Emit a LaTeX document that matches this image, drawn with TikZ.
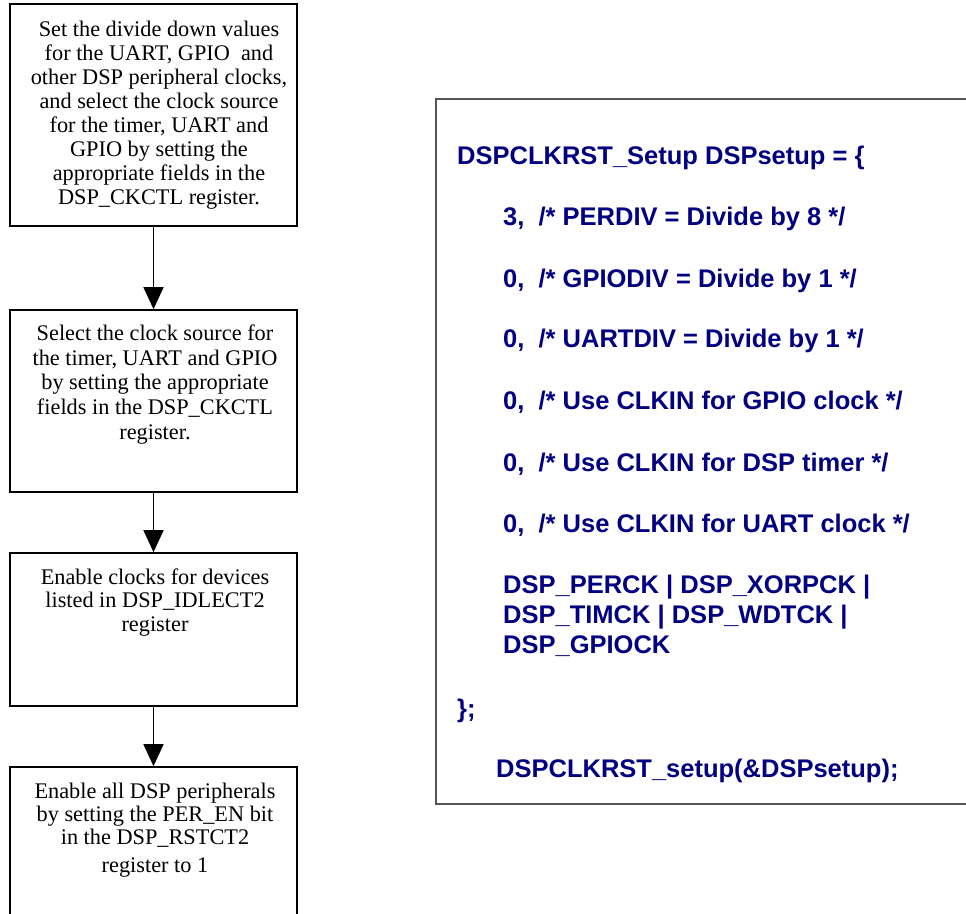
\documentclass[tikz,border=0pt]{standalone}
\usepackage{fontspec}
\setmainfont{Liberation Serif}
\newfontfamily\codefont{Liberation Sans}
\usetikzlibrary{arrows.meta}
\definecolor{codeblue}{RGB}{0,0,128}
\definecolor{framegray}{RGB}{85,85,85}
\tikzset{
  stepbox/.style={draw=black, line width=1.7pt, minimum width=287pt, inner sep=0pt},
  % multi-line step texts are placed by the baseline of their last line
  steptext/.style={anchor=base, align=center, inner sep=0pt,
    font=\fontsize{22.3}{23.3}\selectfont},
  flow/.style={line width=1.6pt, -{Triangle[width=20pt,length=22pt]}},
  codeframe/.style={draw=framegray, line width=2pt, inner sep=0pt},
  codeline/.style={anchor=base west, inner sep=0pt, text=codeblue,
    font=\codefont\bfseries\fontsize{25.5}{30}\selectfont}
}
\begin{document}
\begin{tikzpicture}[x=1pt,y=-1pt]
  \useasboundingbox (0,0) rectangle (966,913);
  \clip (0,0) rectangle (966,913);

  % flow-chart steps
  \node[stepbox, minimum height=222pt] (b1) at (153.5,115) {};
  \node[stepbox, minimum height=182pt] (b2) at (153.5,401) {};
  \node[stepbox, minimum height=153pt] (b3) at (153.5,629.5) {};
  \node[stepbox, minimum height=180pt] (b4) at (153.5,857) {};

  \node[steptext, font=\fontsize{22.3}{24}\selectfont] (t1) at (159,204) {Set the divide down values\\
    for the UART, GPIO\ \ and\\
    other DSP peripheral clocks,\\
    and select the clock source\\
    for the timer, UART and\\
    GPIO by setting the\\
    appropriate fields in the\\
    DSP\_CKCTL register.};
  \node[steptext, font=\fontsize{22.3}{24.6}\selectfont] (t2) at (155,439) {Select the clock source for\\
    the timer, UART and GPIO\\
    by setting the appropriate\\
    fields in the DSP\_CKCTL\\
    register.};
  \node[steptext] (t3) at (155,631) {Enable clocks for devices\\
    listed in DSP\_IDLECT2\\
    register};
  \node[steptext] (t4) at (155,872) {Enable all DSP peripherals\\
    by setting the PER\_EN bit\\
    in the DSP\_RSTCT2\\[4pt]
    register to 1};

  \draw[flow] (b1.south) -- (b2.north);
  \draw[flow] (b2.south) -- (b3.north);
  \draw[flow] (b3.south) -- (b4.north);

  % code listing frame (open to the right)
  \node[codeframe, minimum width=545pt, minimum height=705pt] (code) at (708.5,451.5) {};

  \node[codeline] (c1) at (457,164) {DSPCLKRST\_Setup DSPsetup = \{};
  \node[codeline] (c2) at (503,225) {3,\ \ /* PERDIV = Divide by 8 */};
  \node[codeline] (c3) at (503,287) {0,\ \ /* GPIODIV = Divide by 1 */};
  \node[codeline] (c4) at (503,347) {0,\ \ /* UARTDIV = Divide by 1 */};
  \node[codeline] (c5) at (503,409) {0,\ \ /* Use CLKIN for GPIO clock */};
  \node[codeline] (c6) at (503,471) {0,\ \ /* Use CLKIN for DSP timer */};
  \node[codeline] (c7) at (503,532) {0,\ \ /* Use CLKIN for UART clock */};
  \node[codeline] (c8) at (503,593) {DSP\_PERCK | DSP\_XORPCK |};
  \node[codeline] (c9) at (503,623) {DSP\_TIMCK | DSP\_WDTCK |};
  \node[codeline] (c10) at (503,653) {DSP\_GPIOCK};
  \node[codeline] (c11) at (457,717) {\};};
  \node[codeline] (c12) at (496,777) {DSPCLKRST\_setup(\&DSPsetup);};
\end{tikzpicture}
\end{document}
